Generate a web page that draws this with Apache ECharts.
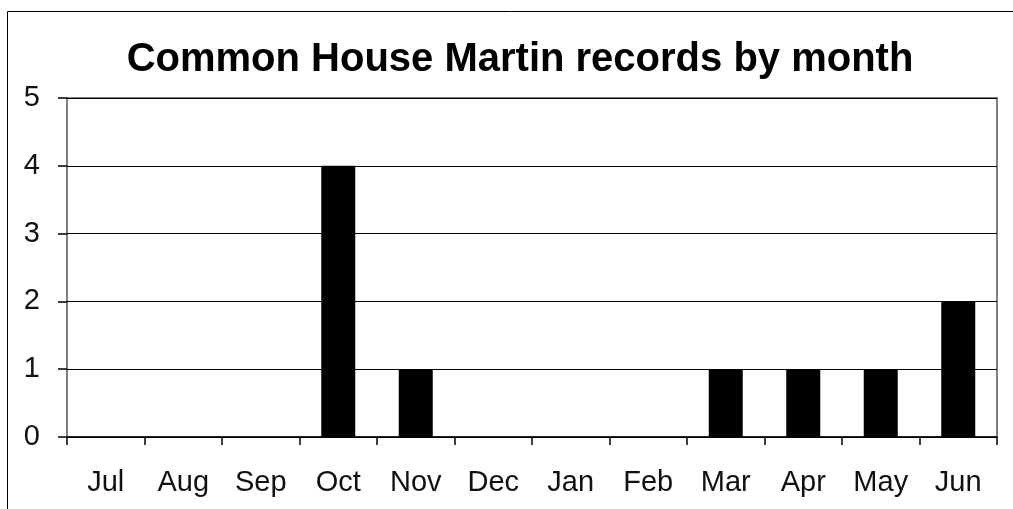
<!DOCTYPE html>
<html>
<head>
<meta charset="utf-8">
<script src="https://cdn.jsdelivr.net/npm/echarts@6/dist/echarts.min.js"></script>
<style>
html,body{margin:0;padding:0;background:#fff;}
#chart{width:1013px;height:509px;}
</style>
</head>
<body>
<div id="chart"></div>
<script>
const titleText = 'Common House Martin records by month';
const months = ['Jul','Aug','Sep','Oct','Nov','Dec','Jan','Feb','Mar','Apr','May','Jun'];
const records = [0,0,0,4,1,0,0,0,1,1,1,2];
const yTicks = [0,1,2,3,4,5];

const chart = echarts.init(document.getElementById('chart'), null, {renderer:'canvas'});
const font = '"Liberation Sans", Arial, sans-serif';
chart.setOption({
  animation: false,
  backgroundColor: '#fff',
  graphic: [{
    type: 'rect',
    shape: {x: 7.5, y: 11.5, width: 1200, height: 700},
    style: {fill: 'none', stroke: '#000', lineWidth: 1},
    z: 100, silent: true
  }],
  title: {
    text: titleText,
    left: 515, top: 35,
    textAlign: 'center',
    textStyle: {fontFamily: font, fontSize: 40, fontWeight: 'bold', color: '#000'}
  },
  grid: {
    left: 67, right: 16, top: 98, bottom: 72,
    show: true, borderColor: '#808080', borderWidth: 2, backgroundColor: '#fff'
  },
  xAxis: {
    type: 'category',
    data: months,
    boundaryGap: true,
    axisLine: {show: true, lineStyle: {color: '#000', width: 1.5}},
    axisTick: {show: true, length: 8, lineStyle: {color: '#000', width: 1.5}},
    axisLabel: {fontFamily: font, fontSize: 29, color: '#111', margin: 31, interval: 0}
  },
  yAxis: {
    type: 'value',
    min: yTicks[0], max: yTicks[yTicks.length-1], interval: 1,
    axisLine: {show: false},
    axisTick: {show: true, length: 9, lineStyle: {color: '#000', width: 1.5}},
    axisLabel: {fontFamily: font, fontSize: 29, color: '#111', margin: 27},
    splitLine: {show: true, lineStyle: {color: '#000', width: 1.2}}
  },
  series: [{
    type: 'bar',
    data: records,
    barWidth: 34,
    itemStyle: {color: '#000'}
  }]
});
</script>
</body>
</html>
